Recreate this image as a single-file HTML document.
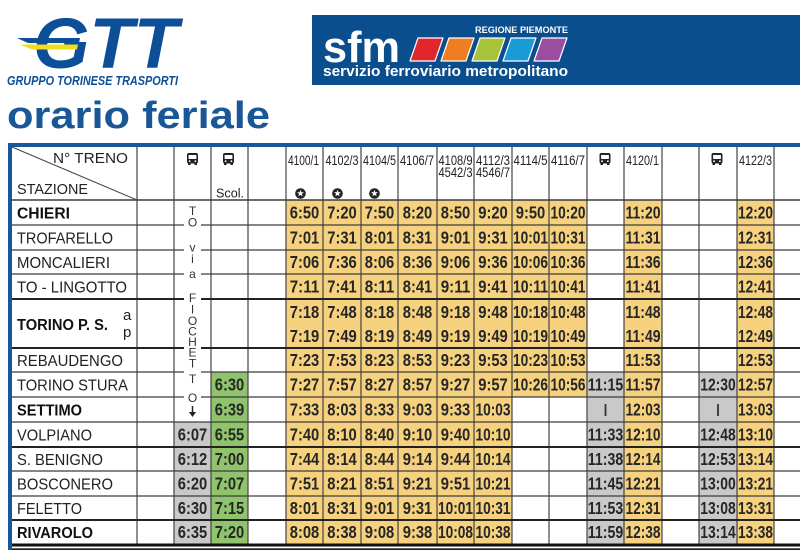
<!DOCTYPE html>
<html><head><meta charset="utf-8"><style>
html,body{margin:0;padding:0;background:#fff;}
svg{display:block;}
text{font-family:"Liberation Sans",sans-serif;}
.t{font-size:17.5px;font-weight:bold;fill:#262626;text-anchor:middle;}
.s{font-size:16px;fill:#222;}
.sb{font-size:16px;fill:#111;font-weight:bold;}
.n{font-size:14px;fill:#222;}
.l{font-size:12px;fill:#333;text-anchor:middle;}
</style></head><body>
<svg width="800" height="550" viewBox="0 0 800 550" xmlns="http://www.w3.org/2000/svg">
<rect width="800" height="550" fill="#fff"/>
<!-- GTT logo -->
<text x="33" y="68" font-size="71" font-weight="bold" font-style="italic" fill="#0c4f98" textLength="145" lengthAdjust="spacingAndGlyphs">GTT</text>
<polygon points="17,38 80,38 79,43 28,43" fill="#0c4f98"/>
<polygon points="20,44.5 78,44.5 77,49.5 32,49.5" fill="#f2dd1c"/>
<text x="7" y="85" font-size="13" font-weight="bold" font-style="italic" fill="#0c4f98" textLength="171" lengthAdjust="spacingAndGlyphs">GRUPPO TORINESE TRASPORTI</text>
<!-- sfm banner -->
<rect x="312" y="15" width="488" height="70" fill="#0b4e8e"/>
<text x="323" y="62" font-size="44" font-weight="bold" fill="#fff" textLength="77" lengthAdjust="spacingAndGlyphs">sfm</text>
<text x="475" y="33" font-size="9.5" font-weight="bold" fill="#fff" textLength="93" lengthAdjust="spacingAndGlyphs">REGIONE PIEMONTE</text>
<g stroke="#fff" stroke-width="1.2" stroke-linejoin="round">
<polygon points="410,61 435,61 443,38 418,38" fill="#e3262b"/>
<polygon points="441,61 466,61 474,38 449,38" fill="#ef7d22"/>
<polygon points="472,61 497,61 505,38 480,38" fill="#a7c33a"/>
<polygon points="503,61 528,61 536,38 511,38" fill="#1a9ad6"/>
<polygon points="534,61 559,61 567,38 542,38" fill="#9b4ea0"/>
</g>
<text x="323" y="76" font-size="15" font-weight="bold" fill="#fff" textLength="245" lengthAdjust="spacingAndGlyphs">servizio ferroviario metropolitano</text>
<!-- title -->
<text x="7" y="128" font-size="38" font-weight="bold" fill="#1a5797" textLength="263" lengthAdjust="spacingAndGlyphs">orario feriale</text>

<!-- fills -->
<rect x="286" y="200" width="226" height="344" fill="#f6d17e"/>
<rect x="512" y="200" width="75" height="197" fill="#f6d17e"/>
<rect x="624" y="200" width="38" height="344" fill="#f6d17e"/>
<rect x="737" y="200" width="37" height="344" fill="#f6d17e"/>
<rect x="587" y="372" width="37" height="172" fill="#c9c9c9"/>
<rect x="699" y="372" width="38" height="172" fill="#c9c9c9"/>
<rect x="174" y="422" width="37" height="122" fill="#c9c9c9"/>
<rect x="211" y="372" width="37" height="172" fill="#8fc46c"/>

<!-- vertical lines -->
<g stroke="#444" stroke-width="1.2">
<line x1="137" y1="146" x2="137" y2="544"/>
<line x1="174" y1="146" x2="174" y2="544"/>
<line x1="211" y1="146" x2="211" y2="544"/>
<line x1="248" y1="146" x2="248" y2="544"/>
<line x1="286" y1="146" x2="286" y2="544"/>
<line x1="323" y1="146" x2="323" y2="544"/>
<line x1="361" y1="146" x2="361" y2="544"/>
<line x1="398" y1="146" x2="398" y2="544"/>
<line x1="437" y1="146" x2="437" y2="544"/>
<line x1="474" y1="146" x2="474" y2="544"/>
<line x1="512" y1="146" x2="512" y2="544"/>
<line x1="549" y1="146" x2="549" y2="544"/>
<line x1="587" y1="146" x2="587" y2="544"/>
<line x1="624" y1="146" x2="624" y2="544"/>
<line x1="662" y1="146" x2="662" y2="544"/>
<line x1="699" y1="146" x2="699" y2="544"/>
<line x1="737" y1="146" x2="737" y2="544"/>
<line x1="774" y1="146" x2="774" y2="544"/>
</g>
<!-- horizontal lines -->
<g stroke="#3c3c3c" stroke-width="1.3">
<line x1="12" y1="200" x2="800" y2="200" stroke-width="1.6"/>
<line x1="12" y1="225" x2="800" y2="225"/>
<line x1="12" y1="250" x2="800" y2="250"/>
<line x1="12" y1="274" x2="800" y2="274"/>
<line x1="12" y1="372" x2="800" y2="372"/>
<line x1="12" y1="397" x2="800" y2="397"/>
<line x1="12" y1="422" x2="800" y2="422"/>
<line x1="12" y1="471" x2="800" y2="471"/>
<line x1="12" y1="496" x2="800" y2="496"/>
</g>
<g stroke="#222" stroke-width="2">
<line x1="12" y1="299" x2="800" y2="299"/>
<line x1="12" y1="348" x2="800" y2="348"/>
<line x1="12" y1="447" x2="800" y2="447"/>
<line x1="12" y1="520" x2="800" y2="520"/>
</g>
<rect x="8" y="543.5" width="792" height="3" fill="#111"/>
<rect x="8" y="548.3" width="792" height="1.7" fill="#222"/>
<!-- blue borders -->
<rect x="8" y="143" width="792" height="4" fill="#17589c"/>
<rect x="8" y="143" width="4" height="407" fill="#17589c"/>
<!-- diagonal header -->
<line x1="12" y1="147" x2="137" y2="200" stroke="#444" stroke-width="1"/>
<text x="53" y="163" font-size="15" fill="#222" textLength="75" lengthAdjust="spacingAndGlyphs">N° TRENO</text>
<text x="17" y="194" font-size="15" fill="#222" textLength="71" lengthAdjust="spacingAndGlyphs">STAZIONE</text>

<!-- bus icons -->
<g fill="#222">
<g transform="translate(187,153)"><rect x="0" y="0" width="11" height="10.5" rx="2"/><rect x="1.6" y="2" width="7.8" height="4" fill="#fff"/><circle cx="2.6" cy="8.2" r="0.9" fill="#fff"/><circle cx="8.4" cy="8.2" r="0.9" fill="#fff"/><rect x="1" y="10" width="2.5" height="2"/><rect x="7.5" y="10" width="2.5" height="2"/></g>
<g transform="translate(223,153)"><rect x="0" y="0" width="11" height="10.5" rx="2"/><rect x="1.6" y="2" width="7.8" height="4" fill="#fff"/><circle cx="2.6" cy="8.2" r="0.9" fill="#fff"/><circle cx="8.4" cy="8.2" r="0.9" fill="#fff"/><rect x="1" y="10" width="2.5" height="2"/><rect x="7.5" y="10" width="2.5" height="2"/></g>
<g transform="translate(599.5,153)"><rect x="0" y="0" width="11" height="10.5" rx="2"/><rect x="1.6" y="2" width="7.8" height="4" fill="#fff"/><circle cx="2.6" cy="8.2" r="0.9" fill="#fff"/><circle cx="8.4" cy="8.2" r="0.9" fill="#fff"/><rect x="1" y="10" width="2.5" height="2"/><rect x="7.5" y="10" width="2.5" height="2"/></g>
<g transform="translate(711.5,153)"><rect x="0" y="0" width="11" height="10.5" rx="2"/><rect x="1.6" y="2" width="7.8" height="4" fill="#fff"/><circle cx="2.6" cy="8.2" r="0.9" fill="#fff"/><circle cx="8.4" cy="8.2" r="0.9" fill="#fff"/><rect x="1" y="10" width="2.5" height="2"/><rect x="7.5" y="10" width="2.5" height="2"/></g>
</g>
<text x="230" y="197.5" font-size="13" fill="#222" text-anchor="middle" textLength="28" lengthAdjust="spacingAndGlyphs">Scol.</text>

<!-- train numbers -->
<text class="n" x="288" y="165" textLength="31" lengthAdjust="spacingAndGlyphs">4100/1</text>
<text class="n" x="325.5" y="165" textLength="33" lengthAdjust="spacingAndGlyphs">4102/3</text>
<text class="n" x="363" y="165" textLength="33" lengthAdjust="spacingAndGlyphs">4104/5</text>
<text class="n" x="400" y="165" textLength="34" lengthAdjust="spacingAndGlyphs">4106/7</text>
<text class="n" x="438.5" y="165" textLength="34" lengthAdjust="spacingAndGlyphs">4108/9</text>
<text class="n" x="438.5" y="177" textLength="34" lengthAdjust="spacingAndGlyphs">4542/3</text>
<text class="n" x="476" y="165" textLength="34" lengthAdjust="spacingAndGlyphs">4112/3</text>
<text class="n" x="476" y="177" textLength="34" lengthAdjust="spacingAndGlyphs">4546/7</text>
<text class="n" x="513.5" y="165" textLength="34" lengthAdjust="spacingAndGlyphs">4114/5</text>
<text class="n" x="551" y="165" textLength="34" lengthAdjust="spacingAndGlyphs">4116/7</text>
<text class="n" x="626" y="165" textLength="33" lengthAdjust="spacingAndGlyphs">4120/1</text>
<text class="n" x="739" y="165" textLength="33" lengthAdjust="spacingAndGlyphs">4122/3</text>
<!-- star icons -->
<g>
<circle cx="300.5" cy="193.5" r="5.3" fill="#222"/><polygon points="300.5,189.9 301.4,192.3 304,192.3 301.9,193.9 302.7,196.4 300.5,194.9 298.3,196.4 299.1,193.9 297,192.3 299.6,192.3" fill="#fff"/>
<circle cx="337.5" cy="193.5" r="5.3" fill="#222"/><polygon points="337.5,189.9 338.4,192.3 341,192.3 338.9,193.9 339.7,196.4 337.5,194.9 335.3,196.4 336.1,193.9 334,192.3 336.6,192.3" fill="#fff"/>
<circle cx="374.5" cy="193.5" r="5.3" fill="#222"/><polygon points="374.5,189.9 375.4,192.3 378,192.3 375.9,193.9 376.7,196.4 374.5,194.9 372.3,196.4 373.1,193.9 371,192.3 373.6,192.3" fill="#fff"/>
</g>

<!-- TO via FIOCHETTO -->
<g fill="#fff">
<rect x="184" y="223" width="17" height="4"/>
<rect x="184" y="248" width="17" height="4"/>
<rect x="184" y="272" width="17" height="4"/>
<rect x="184" y="297" width="17" height="4"/>
<rect x="184" y="346" width="17" height="4"/>
<rect x="184" y="370" width="17" height="4"/>
<rect x="184" y="395" width="17" height="4"/>
</g>
<text class="l" x="192.5" y="215">T</text>
<text class="l" x="192.5" y="226.5">O</text>
<text class="l" x="192.5" y="251.5">v</text>
<text class="l" x="192.5" y="263">i</text>
<text class="l" x="192.5" y="278">a</text>
<text class="l" x="192.5" y="302">F</text>
<text class="l" x="192.5" y="313.5">I</text>
<text class="l" x="192.5" y="325">O</text>
<text class="l" x="192.5" y="335.5">C</text>
<text class="l" x="192.5" y="346">H</text>
<text class="l" x="192.5" y="356.5">E</text>
<text class="l" x="192.5" y="367.5">T</text>
<text class="l" x="192.5" y="383">T</text>
<text class="l" x="192.5" y="402">O</text>
<line x1="192.5" y1="406" x2="192.5" y2="414" stroke="#222" stroke-width="1.5"/>
<polygon points="189,412 196,412 192.5,417" fill="#222"/>

<!-- stations -->
<text class="sb" x="17" y="218.5" textLength="53" lengthAdjust="spacingAndGlyphs">CHIERI</text>
<text class="s" x="17" y="243.5" textLength="96" lengthAdjust="spacingAndGlyphs">TROFARELLO</text>
<text class="s" x="17" y="268" textLength="93" lengthAdjust="spacingAndGlyphs">MONCALIERI</text>
<text class="s" x="17" y="292.5" textLength="110" lengthAdjust="spacingAndGlyphs">TO - LINGOTTO</text>
<text class="sb" x="17" y="330" textLength="91" lengthAdjust="spacingAndGlyphs">TORINO P. S.</text>
<text x="123" y="320" font-size="15" fill="#222">a</text>
<text x="123" y="337" font-size="15" fill="#222">p</text>
<text class="s" x="17" y="366" textLength="106" lengthAdjust="spacingAndGlyphs">REBAUDENGO</text>
<text class="s" x="17" y="390.5" textLength="111" lengthAdjust="spacingAndGlyphs">TORINO STURA</text>
<text class="sb" x="17" y="415.5" textLength="65" lengthAdjust="spacingAndGlyphs">SETTIMO</text>
<text class="s" x="17" y="440.5" textLength="75" lengthAdjust="spacingAndGlyphs">VOLPIANO</text>
<text class="s" x="17" y="465" textLength="86" lengthAdjust="spacingAndGlyphs">S. BENIGNO</text>
<text class="s" x="17" y="489.5" textLength="96" lengthAdjust="spacingAndGlyphs">BOSCONERO</text>
<text class="s" x="17" y="514" textLength="65" lengthAdjust="spacingAndGlyphs">FELETTO</text>
<text class="sb" x="17" y="538" textLength="76" lengthAdjust="spacingAndGlyphs">RIVAROLO</text>

<!-- col2 bus -->
<text class="t" x="192.5" y="440.5" textLength="29.5" lengthAdjust="spacingAndGlyphs">6:07</text>
<text class="t" x="192.5" y="465" textLength="29.5" lengthAdjust="spacingAndGlyphs">6:12</text>
<text class="t" x="192.5" y="489.5" textLength="29.5" lengthAdjust="spacingAndGlyphs">6:20</text>
<text class="t" x="192.5" y="514" textLength="29.5" lengthAdjust="spacingAndGlyphs">6:30</text>
<text class="t" x="192.5" y="538" textLength="29.5" lengthAdjust="spacingAndGlyphs">6:35</text>
<!-- col3 bus scol -->
<text class="t" x="229.5" y="390.5" textLength="29.5" lengthAdjust="spacingAndGlyphs">6:30</text>
<text class="t" x="229.5" y="415.5" textLength="29.5" lengthAdjust="spacingAndGlyphs">6:39</text>
<text class="t" x="229.5" y="440.5" textLength="29.5" lengthAdjust="spacingAndGlyphs">6:55</text>
<text class="t" x="229.5" y="465" textLength="29.5" lengthAdjust="spacingAndGlyphs">7:00</text>
<text class="t" x="229.5" y="489.5" textLength="29.5" lengthAdjust="spacingAndGlyphs">7:07</text>
<text class="t" x="229.5" y="514" textLength="29.5" lengthAdjust="spacingAndGlyphs">7:15</text>
<text class="t" x="229.5" y="538" textLength="29.5" lengthAdjust="spacingAndGlyphs">7:20</text>

<!-- col5 4100/1 -->
<text class="t" x="304.5" y="218.5" textLength="29.5" lengthAdjust="spacingAndGlyphs">6:50</text>
<text class="t" x="304.5" y="243.5" textLength="29.5" lengthAdjust="spacingAndGlyphs">7:01</text>
<text class="t" x="304.5" y="268" textLength="29.5" lengthAdjust="spacingAndGlyphs">7:06</text>
<text class="t" x="304.5" y="292.5" textLength="29.5" lengthAdjust="spacingAndGlyphs">7:11</text>
<text class="t" x="304.5" y="318" textLength="29.5" lengthAdjust="spacingAndGlyphs">7:18</text>
<text class="t" x="304.5" y="342" textLength="29.5" lengthAdjust="spacingAndGlyphs">7:19</text>
<text class="t" x="304.5" y="366" textLength="29.5" lengthAdjust="spacingAndGlyphs">7:23</text>
<text class="t" x="304.5" y="390.5" textLength="29.5" lengthAdjust="spacingAndGlyphs">7:27</text>
<text class="t" x="304.5" y="415.5" textLength="29.5" lengthAdjust="spacingAndGlyphs">7:33</text>
<text class="t" x="304.5" y="440.5" textLength="29.5" lengthAdjust="spacingAndGlyphs">7:40</text>
<text class="t" x="304.5" y="465" textLength="29.5" lengthAdjust="spacingAndGlyphs">7:44</text>
<text class="t" x="304.5" y="489.5" textLength="29.5" lengthAdjust="spacingAndGlyphs">7:51</text>
<text class="t" x="304.5" y="514" textLength="29.5" lengthAdjust="spacingAndGlyphs">8:01</text>
<text class="t" x="304.5" y="538" textLength="29.5" lengthAdjust="spacingAndGlyphs">8:08</text>
<!-- col6 4102/3 -->
<text class="t" x="342" y="218.5" textLength="29.5" lengthAdjust="spacingAndGlyphs">7:20</text>
<text class="t" x="342" y="243.5" textLength="29.5" lengthAdjust="spacingAndGlyphs">7:31</text>
<text class="t" x="342" y="268" textLength="29.5" lengthAdjust="spacingAndGlyphs">7:36</text>
<text class="t" x="342" y="292.5" textLength="29.5" lengthAdjust="spacingAndGlyphs">7:41</text>
<text class="t" x="342" y="318" textLength="29.5" lengthAdjust="spacingAndGlyphs">7:48</text>
<text class="t" x="342" y="342" textLength="29.5" lengthAdjust="spacingAndGlyphs">7:49</text>
<text class="t" x="342" y="366" textLength="29.5" lengthAdjust="spacingAndGlyphs">7:53</text>
<text class="t" x="342" y="390.5" textLength="29.5" lengthAdjust="spacingAndGlyphs">7:57</text>
<text class="t" x="342" y="415.5" textLength="29.5" lengthAdjust="spacingAndGlyphs">8:03</text>
<text class="t" x="342" y="440.5" textLength="29.5" lengthAdjust="spacingAndGlyphs">8:10</text>
<text class="t" x="342" y="465" textLength="29.5" lengthAdjust="spacingAndGlyphs">8:14</text>
<text class="t" x="342" y="489.5" textLength="29.5" lengthAdjust="spacingAndGlyphs">8:21</text>
<text class="t" x="342" y="514" textLength="29.5" lengthAdjust="spacingAndGlyphs">8:31</text>
<text class="t" x="342" y="538" textLength="29.5" lengthAdjust="spacingAndGlyphs">8:38</text>
<!-- col7 4104/5 -->
<text class="t" x="379.5" y="218.5" textLength="29.5" lengthAdjust="spacingAndGlyphs">7:50</text>
<text class="t" x="379.5" y="243.5" textLength="29.5" lengthAdjust="spacingAndGlyphs">8:01</text>
<text class="t" x="379.5" y="268" textLength="29.5" lengthAdjust="spacingAndGlyphs">8:06</text>
<text class="t" x="379.5" y="292.5" textLength="29.5" lengthAdjust="spacingAndGlyphs">8:11</text>
<text class="t" x="379.5" y="318" textLength="29.5" lengthAdjust="spacingAndGlyphs">8:18</text>
<text class="t" x="379.5" y="342" textLength="29.5" lengthAdjust="spacingAndGlyphs">8:19</text>
<text class="t" x="379.5" y="366" textLength="29.5" lengthAdjust="spacingAndGlyphs">8:23</text>
<text class="t" x="379.5" y="390.5" textLength="29.5" lengthAdjust="spacingAndGlyphs">8:27</text>
<text class="t" x="379.5" y="415.5" textLength="29.5" lengthAdjust="spacingAndGlyphs">8:33</text>
<text class="t" x="379.5" y="440.5" textLength="29.5" lengthAdjust="spacingAndGlyphs">8:40</text>
<text class="t" x="379.5" y="465" textLength="29.5" lengthAdjust="spacingAndGlyphs">8:44</text>
<text class="t" x="379.5" y="489.5" textLength="29.5" lengthAdjust="spacingAndGlyphs">8:51</text>
<text class="t" x="379.5" y="514" textLength="29.5" lengthAdjust="spacingAndGlyphs">9:01</text>
<text class="t" x="379.5" y="538" textLength="29.5" lengthAdjust="spacingAndGlyphs">9:08</text>
<!-- col8 4106/7 -->
<text class="t" x="417.5" y="218.5" textLength="29.5" lengthAdjust="spacingAndGlyphs">8:20</text>
<text class="t" x="417.5" y="243.5" textLength="29.5" lengthAdjust="spacingAndGlyphs">8:31</text>
<text class="t" x="417.5" y="268" textLength="29.5" lengthAdjust="spacingAndGlyphs">8:36</text>
<text class="t" x="417.5" y="292.5" textLength="29.5" lengthAdjust="spacingAndGlyphs">8:41</text>
<text class="t" x="417.5" y="318" textLength="29.5" lengthAdjust="spacingAndGlyphs">8:48</text>
<text class="t" x="417.5" y="342" textLength="29.5" lengthAdjust="spacingAndGlyphs">8:49</text>
<text class="t" x="417.5" y="366" textLength="29.5" lengthAdjust="spacingAndGlyphs">8:53</text>
<text class="t" x="417.5" y="390.5" textLength="29.5" lengthAdjust="spacingAndGlyphs">8:57</text>
<text class="t" x="417.5" y="415.5" textLength="29.5" lengthAdjust="spacingAndGlyphs">9:03</text>
<text class="t" x="417.5" y="440.5" textLength="29.5" lengthAdjust="spacingAndGlyphs">9:10</text>
<text class="t" x="417.5" y="465" textLength="29.5" lengthAdjust="spacingAndGlyphs">9:14</text>
<text class="t" x="417.5" y="489.5" textLength="29.5" lengthAdjust="spacingAndGlyphs">9:21</text>
<text class="t" x="417.5" y="514" textLength="29.5" lengthAdjust="spacingAndGlyphs">9:31</text>
<text class="t" x="417.5" y="538" textLength="29.5" lengthAdjust="spacingAndGlyphs">9:38</text>
<!-- col9 4108/9 -->
<text class="t" x="455.5" y="218.5" textLength="29.5" lengthAdjust="spacingAndGlyphs">8:50</text>
<text class="t" x="455.5" y="243.5" textLength="29.5" lengthAdjust="spacingAndGlyphs">9:01</text>
<text class="t" x="455.5" y="268" textLength="29.5" lengthAdjust="spacingAndGlyphs">9:06</text>
<text class="t" x="455.5" y="292.5" textLength="29.5" lengthAdjust="spacingAndGlyphs">9:11</text>
<text class="t" x="455.5" y="318" textLength="29.5" lengthAdjust="spacingAndGlyphs">9:18</text>
<text class="t" x="455.5" y="342" textLength="29.5" lengthAdjust="spacingAndGlyphs">9:19</text>
<text class="t" x="455.5" y="366" textLength="29.5" lengthAdjust="spacingAndGlyphs">9:23</text>
<text class="t" x="455.5" y="390.5" textLength="29.5" lengthAdjust="spacingAndGlyphs">9:27</text>
<text class="t" x="455.5" y="415.5" textLength="29.5" lengthAdjust="spacingAndGlyphs">9:33</text>
<text class="t" x="455.5" y="440.5" textLength="29.5" lengthAdjust="spacingAndGlyphs">9:40</text>
<text class="t" x="455.5" y="465" textLength="29.5" lengthAdjust="spacingAndGlyphs">9:44</text>
<text class="t" x="455.5" y="489.5" textLength="29.5" lengthAdjust="spacingAndGlyphs">9:51</text>
<text class="t" x="455.5" y="514" textLength="35" lengthAdjust="spacingAndGlyphs">10:01</text>
<text class="t" x="455.5" y="538" textLength="35" lengthAdjust="spacingAndGlyphs">10:08</text>
<!-- col10 4112/3 -->
<text class="t" x="493" y="218.5" textLength="29.5" lengthAdjust="spacingAndGlyphs">9:20</text>
<text class="t" x="493" y="243.5" textLength="29.5" lengthAdjust="spacingAndGlyphs">9:31</text>
<text class="t" x="493" y="268" textLength="29.5" lengthAdjust="spacingAndGlyphs">9:36</text>
<text class="t" x="493" y="292.5" textLength="29.5" lengthAdjust="spacingAndGlyphs">9:41</text>
<text class="t" x="493" y="318" textLength="29.5" lengthAdjust="spacingAndGlyphs">9:48</text>
<text class="t" x="493" y="342" textLength="29.5" lengthAdjust="spacingAndGlyphs">9:49</text>
<text class="t" x="493" y="366" textLength="29.5" lengthAdjust="spacingAndGlyphs">9:53</text>
<text class="t" x="493" y="390.5" textLength="29.5" lengthAdjust="spacingAndGlyphs">9:57</text>
<text class="t" x="493" y="415.5" textLength="35" lengthAdjust="spacingAndGlyphs">10:03</text>
<text class="t" x="493" y="440.5" textLength="35" lengthAdjust="spacingAndGlyphs">10:10</text>
<text class="t" x="493" y="465" textLength="35" lengthAdjust="spacingAndGlyphs">10:14</text>
<text class="t" x="493" y="489.5" textLength="35" lengthAdjust="spacingAndGlyphs">10:21</text>
<text class="t" x="493" y="514" textLength="35" lengthAdjust="spacingAndGlyphs">10:31</text>
<text class="t" x="493" y="538" textLength="35" lengthAdjust="spacingAndGlyphs">10:38</text>
<!-- col11 4114/5 -->
<text class="t" x="530.5" y="218.5" textLength="29.5" lengthAdjust="spacingAndGlyphs">9:50</text>
<text class="t" x="530.5" y="243.5" textLength="35" lengthAdjust="spacingAndGlyphs">10:01</text>
<text class="t" x="530.5" y="268" textLength="35" lengthAdjust="spacingAndGlyphs">10:06</text>
<text class="t" x="530.5" y="292.5" textLength="35" lengthAdjust="spacingAndGlyphs">10:11</text>
<text class="t" x="530.5" y="318" textLength="35" lengthAdjust="spacingAndGlyphs">10:18</text>
<text class="t" x="530.5" y="342" textLength="35" lengthAdjust="spacingAndGlyphs">10:19</text>
<text class="t" x="530.5" y="366" textLength="35" lengthAdjust="spacingAndGlyphs">10:23</text>
<text class="t" x="530.5" y="390.5" textLength="35" lengthAdjust="spacingAndGlyphs">10:26</text>
<!-- col12 4116/7 -->
<text class="t" x="568" y="218.5" textLength="35" lengthAdjust="spacingAndGlyphs">10:20</text>
<text class="t" x="568" y="243.5" textLength="35" lengthAdjust="spacingAndGlyphs">10:31</text>
<text class="t" x="568" y="268" textLength="35" lengthAdjust="spacingAndGlyphs">10:36</text>
<text class="t" x="568" y="292.5" textLength="35" lengthAdjust="spacingAndGlyphs">10:41</text>
<text class="t" x="568" y="318" textLength="35" lengthAdjust="spacingAndGlyphs">10:48</text>
<text class="t" x="568" y="342" textLength="35" lengthAdjust="spacingAndGlyphs">10:49</text>
<text class="t" x="568" y="366" textLength="35" lengthAdjust="spacingAndGlyphs">10:53</text>
<text class="t" x="568" y="390.5" textLength="35" lengthAdjust="spacingAndGlyphs">10:56</text>
<!-- col13 bus -->
<text class="t" x="605.5" y="390.5" textLength="35.5" lengthAdjust="spacingAndGlyphs">11:15</text>
<rect x="604.6" y="404" width="1.8" height="12" fill="#333"/>
<text class="t" x="605.5" y="440.5" textLength="35.5" lengthAdjust="spacingAndGlyphs">11:33</text>
<text class="t" x="605.5" y="465" textLength="35.5" lengthAdjust="spacingAndGlyphs">11:38</text>
<text class="t" x="605.5" y="489.5" textLength="35.5" lengthAdjust="spacingAndGlyphs">11:45</text>
<text class="t" x="605.5" y="514" textLength="35.5" lengthAdjust="spacingAndGlyphs">11:53</text>
<text class="t" x="605.5" y="538" textLength="35.5" lengthAdjust="spacingAndGlyphs">11:59</text>
<!-- col14 4120/1 -->
<text class="t" x="643" y="218.5" textLength="35" lengthAdjust="spacingAndGlyphs">11:20</text>
<text class="t" x="643" y="243.5" textLength="35" lengthAdjust="spacingAndGlyphs">11:31</text>
<text class="t" x="643" y="268" textLength="35" lengthAdjust="spacingAndGlyphs">11:36</text>
<text class="t" x="643" y="292.5" textLength="35" lengthAdjust="spacingAndGlyphs">11:41</text>
<text class="t" x="643" y="318" textLength="35" lengthAdjust="spacingAndGlyphs">11:48</text>
<text class="t" x="643" y="342" textLength="35" lengthAdjust="spacingAndGlyphs">11:49</text>
<text class="t" x="643" y="366" textLength="35" lengthAdjust="spacingAndGlyphs">11:53</text>
<text class="t" x="643" y="390.5" textLength="35" lengthAdjust="spacingAndGlyphs">11:57</text>
<text class="t" x="643" y="415.5" textLength="35" lengthAdjust="spacingAndGlyphs">12:03</text>
<text class="t" x="643" y="440.5" textLength="35" lengthAdjust="spacingAndGlyphs">12:10</text>
<text class="t" x="643" y="465" textLength="35" lengthAdjust="spacingAndGlyphs">12:14</text>
<text class="t" x="643" y="489.5" textLength="35" lengthAdjust="spacingAndGlyphs">12:21</text>
<text class="t" x="643" y="514" textLength="35" lengthAdjust="spacingAndGlyphs">12:31</text>
<text class="t" x="643" y="538" textLength="35" lengthAdjust="spacingAndGlyphs">12:38</text>
<!-- col16 bus -->
<text class="t" x="718" y="390.5" textLength="35.5" lengthAdjust="spacingAndGlyphs">12:30</text>
<rect x="717.1" y="404" width="1.8" height="12" fill="#333"/>
<text class="t" x="718" y="440.5" textLength="35.5" lengthAdjust="spacingAndGlyphs">12:48</text>
<text class="t" x="718" y="465" textLength="35.5" lengthAdjust="spacingAndGlyphs">12:53</text>
<text class="t" x="718" y="489.5" textLength="35.5" lengthAdjust="spacingAndGlyphs">13:00</text>
<text class="t" x="718" y="514" textLength="35.5" lengthAdjust="spacingAndGlyphs">13:08</text>
<text class="t" x="718" y="538" textLength="35.5" lengthAdjust="spacingAndGlyphs">13:14</text>
<!-- col17 4122/3 -->
<text class="t" x="755.5" y="218.5" textLength="35" lengthAdjust="spacingAndGlyphs">12:20</text>
<text class="t" x="755.5" y="243.5" textLength="35" lengthAdjust="spacingAndGlyphs">12:31</text>
<text class="t" x="755.5" y="268" textLength="35" lengthAdjust="spacingAndGlyphs">12:36</text>
<text class="t" x="755.5" y="292.5" textLength="35" lengthAdjust="spacingAndGlyphs">12:41</text>
<text class="t" x="755.5" y="318" textLength="35" lengthAdjust="spacingAndGlyphs">12:48</text>
<text class="t" x="755.5" y="342" textLength="35" lengthAdjust="spacingAndGlyphs">12:49</text>
<text class="t" x="755.5" y="366" textLength="35" lengthAdjust="spacingAndGlyphs">12:53</text>
<text class="t" x="755.5" y="390.5" textLength="35" lengthAdjust="spacingAndGlyphs">12:57</text>
<text class="t" x="755.5" y="415.5" textLength="35" lengthAdjust="spacingAndGlyphs">13:03</text>
<text class="t" x="755.5" y="440.5" textLength="35" lengthAdjust="spacingAndGlyphs">13:10</text>
<text class="t" x="755.5" y="465" textLength="35" lengthAdjust="spacingAndGlyphs">13:14</text>
<text class="t" x="755.5" y="489.5" textLength="35" lengthAdjust="spacingAndGlyphs">13:21</text>
<text class="t" x="755.5" y="514" textLength="35" lengthAdjust="spacingAndGlyphs">13:31</text>
<text class="t" x="755.5" y="538" textLength="35" lengthAdjust="spacingAndGlyphs">13:38</text>
</svg>
</body></html>
